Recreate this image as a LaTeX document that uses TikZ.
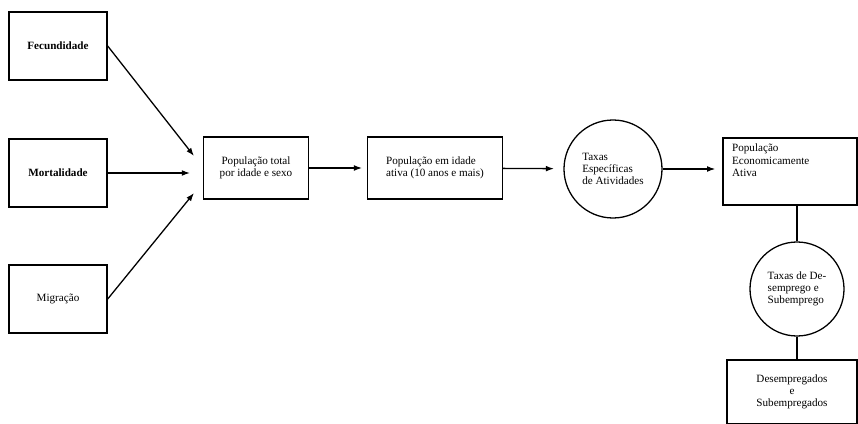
\documentclass[tikz,border=0pt]{standalone}
\usepackage{fontspec}
\setmainfont{Liberation Serif}
\usetikzlibrary{arrows.meta}
\begin{document}
\begin{tikzpicture}[x=0.03cm,y=-0.03cm,font=\fontsize{9.5}{10.5}\selectfont]
  \useasboundingbox (0,0) rectangle (858,424);

  \begin{scope}[every node/.style={rectangle,draw,line width=1.2pt,minimum width=2.94cm,minimum height=2.04cm}]
    \node (fec)  at (58,46)  {\bfseries Fecundidade};
    \node (mort) at (58,173) {\bfseries Mortalidade};
    \node (mig)  at (58,299) {Migração};
  \end{scope}

  \begin{scope}[every node/.style={rectangle,draw,line width=1.2pt,minimum height=1.86cm}]
    \node[minimum width=3.15cm,align=center] (total) at (256,168) {População total\\por idade e sexo};
    \node[minimum width=4.05cm,align=left]   (ativa) at (435,168) {População em idade\\ativa (10 anos e mais)};
    \node[minimum width=4.02cm,minimum height=2.01cm] (pea) at (790,171.5) {};
    \node[minimum width=3.9cm,minimum height=1.92cm,align=center] (des) at (792,392) {Desempregados\\e\\Subempregados};
  \end{scope}
  \node[anchor=north west,align=left] (peatext) at (728,140) {População\\Economicamente\\Ativa};

  \begin{scope}[every node/.style={circle,draw,line width=1.1pt,align=left}]
    \node[minimum size=2.94cm] (taxa)   at (613,169) {Taxas\\Específicas\\de Atividades};
    \node[minimum size=2.82cm] (taxdes) at (797,289) {Taxas de De-\\semprego e\\Subemprego};
  \end{scope}

  \coordinate (in1) at (194,156);
  \coordinate (in2) at (190,173);
  \coordinate (in3) at (194,193);

  \begin{scope}[every edge/.style={draw,line width=1.1pt,-{Latex[length=7pt,width=5pt]}}]
    \path (fec.east)  edge (in1);
    \path (mort.east) edge (in2);
    \path (mig.east)  edge (in3);
    \path (total) edge[shorten >=4pt] (ativa);
    \path (ativa) edge[shorten >=8pt] (taxa);
    \path (taxa.east) edge[shorten >=6pt] (taxa.east -| pea.west);
  \end{scope}

  \begin{scope}[every edge/.style={draw,line width=1.1pt}]
    \path (taxdes.north) edge (taxdes.north |- pea.south);
    \path (taxdes.south) edge (taxdes.south |- des.north);
  \end{scope}

\end{tikzpicture}
\end{document}
